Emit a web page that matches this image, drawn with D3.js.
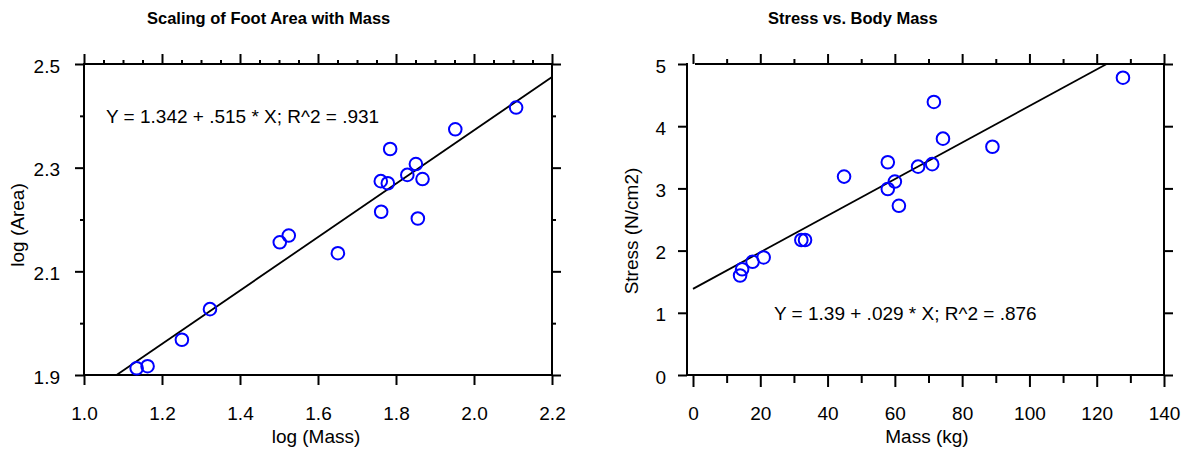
<!DOCTYPE html>
<html>
<head>
<meta charset="utf-8">
<script src="https://cdn.jsdelivr.net/npm/d3@7"></script>
<style>
  html, body { margin: 0; padding: 0; background: #fff; }
  svg { display: block; font-family: "Liberation Sans", Arial, Helvetica, sans-serif; }
</style>
</head>
<body>
<svg id="chart" width="1182" height="455"></svg>
<script>
// ---- Data ----
const logMass = [1.135, 1.163, 1.251, 1.323, 1.502, 1.525, 1.651, 1.762, 1.761, 1.779, 1.785, 1.829, 1.851, 1.868, 1.856, 1.952, 2.108];
const logArea = [1.913, 1.917, 1.968, 2.027, 2.156, 2.169, 2.135, 2.215, 2.274, 2.270, 2.336, 2.286, 2.307, 2.278, 2.202, 2.374, 2.416];

const massKg  = [14.0, 14.6, 17.7, 21.0, 32.2, 33.3, 44.9, 57.9, 57.9, 60.0, 61.2, 66.9, 71.1, 71.6, 74.3, 89.0, 127.8];
const stress  = [1.60, 1.70, 1.82, 1.89, 2.17, 2.17, 3.19, 3.42, 2.99, 3.11, 2.72, 3.35, 3.39, 4.39, 3.80, 3.67, 4.78];

const leftFit  = [1.342, 0.515];   // intercept, slope
const rightFit = [1.385, 0.0294];  // intercept, slope (drawn line)

const leftXTicks  = [1.0, 1.2, 1.4, 1.6, 1.8, 2.0, 2.2];
const leftXMinor  = [1.05, 1.1, 1.15, 1.25, 1.3, 1.35, 1.45, 1.5, 1.55, 1.65, 1.7, 1.75, 1.85, 1.9, 1.95, 2.05, 2.1, 2.15];
const leftYTicks  = [1.9, 2.1, 2.3, 2.5];
const leftYMinor  = [2.0, 2.2, 2.4];
const rightXTicks = [0, 20, 40, 60, 80, 100, 120, 140];
const rightXMinor = [10, 30, 50, 70, 90, 110, 130];
const rightYTicks = [0, 1, 2, 3, 4, 5];

const titles = ["Scaling of Foot Area with Mass", "Stress vs. Body Mass"];
const xLabels = ["log (Mass)", "Mass (kg)"];
const yLabels = ["log (Area)", "Stress (N/cm2)"];
const notes = ["Y = 1.342 + .515 * X; R^2 = .931", "Y = 1.39 + .029 * X; R^2 = .876"];

// ---- Drawing ----
const svg = d3.select("#chart");
const FS = 19;

function styleAxis(g) {
  g.select(".domain").remove();
  g.selectAll(".tick line").attr("stroke", "#000").attr("stroke-width", 2);
  g.selectAll("text").attr("font-size", FS).attr("fill", "#000").attr("font-family", null);
}

// ===== Left panel =====
{
  const x = d3.scaleLinear().domain([1.0, 2.2]).range([84, 552]);
  const y = d3.scaleLinear().domain([1.9, 2.5]).range([375, 64]);
  const g = svg.append("g");

  g.append("g").attr("transform", "translate(0,64)")
    .call(d3.axisTop(x).tickValues(leftXMinor).tickSize(4).tickFormat(""))
    .call(styleAxis);
  g.append("g").attr("transform", "translate(0,64)")
    .call(d3.axisTop(x).tickValues(leftXTicks).tickSize(10).tickFormat(""))
    .call(styleAxis);
  g.append("g").attr("transform", "translate(0,375)")
    .call(d3.axisBottom(x).tickValues(leftXTicks).tickSize(10).tickFormat(d3.format(".1f")))
    .call(styleAxis)
    .call(a => a.selectAll("text").attr("y", 45).attr("dy", 0));
  g.append("g").attr("transform", "translate(84,0)")
    .call(d3.axisLeft(y).tickValues(leftYMinor).tickSize(4).tickFormat(""))
    .call(styleAxis);
  g.append("g").attr("transform", "translate(84,0)")
    .call(d3.axisLeft(y).tickValues(leftYTicks).tickSize(9).tickFormat(d3.format(".1f")))
    .call(styleAxis)
    .call(a => a.selectAll("text").attr("x", -24).attr("dy", 0).attr("y", 8));
  g.append("g").attr("transform", "translate(552,0)")
    .call(d3.axisRight(y).tickValues(leftYMinor).tickSize(4).tickFormat(""))
    .call(styleAxis);
  g.append("g").attr("transform", "translate(552,0)")
    .call(d3.axisRight(y).tickValues(leftYTicks).tickSize(9).tickFormat(""))
    .call(styleAxis);

  g.append("rect").attr("x", x(1.0)).attr("y", y(2.5))
    .attr("width", x(2.2) - x(1.0)).attr("height", y(1.9) - y(2.5))
    .attr("fill", "none").attr("stroke", "#000").attr("stroke-width", 2);

  const x0 = (1.9 - leftFit[0]) / leftFit[1];
  const x1 = 2.2;
  g.append("line")
    .attr("x1", x(x0)).attr("y1", y(leftFit[0] + leftFit[1] * x0))
    .attr("x2", x(x1)).attr("y2", y(leftFit[0] + leftFit[1] * x1))
    .attr("stroke", "#000").attr("stroke-width", 1.8);

  g.selectAll("circle.pt").data(logMass.map((m, i) => [m, logArea[i]])).join("circle")
    .attr("class", "pt")
    .attr("cx", d => x(d[0])).attr("cy", d => y(d[1])).attr("r", 6.3)
    .attr("fill", "none").attr("stroke", "#0000ff").attr("stroke-width", 2);

  svg.append("text").attr("x", 147).attr("y", 24).attr("font-size", 16.5).attr("font-weight", "bold").text(titles[0]);
  svg.append("text").attr("x", 316).attr("y", 443).attr("font-size", FS).attr("text-anchor", "middle").text(xLabels[0]);
  svg.append("text").attr("transform", "translate(24,225) rotate(-90)").attr("font-size", FS).attr("text-anchor", "middle").text(yLabels[0]);
  svg.append("text").attr("x", 106).attr("y", 123).attr("font-size", FS).text(notes[0]);
}

// ===== Right panel =====
{
  const x = d3.scaleLinear().domain([0, 140]).range([693, 1164]);
  const y = d3.scaleLinear().domain([0, 5]).range([375, 64]);
  const axX = 687;
  const g = svg.append("g");

  g.append("g").attr("transform", "translate(0,64)")
    .call(d3.axisTop(x).tickValues(rightXMinor).tickSize(5).tickFormat(""))
    .call(styleAxis);
  g.append("g").attr("transform", "translate(0,64)")
    .call(d3.axisTop(x).tickValues(rightXTicks).tickSize(10).tickFormat(""))
    .call(styleAxis);
  g.append("g").attr("transform", "translate(0,375)")
    .call(d3.axisBottom(x).tickValues(rightXMinor).tickSize(8).tickFormat(""))
    .call(styleAxis);
  g.append("g").attr("transform", "translate(0,375)")
    .call(d3.axisBottom(x).tickValues(rightXTicks).tickSize(12).tickFormat(d3.format("d")))
    .call(styleAxis)
    .call(a => a.selectAll("text").attr("y", 45).attr("dy", 0));
  g.append("g").attr("transform", `translate(${axX},0)`)
    .call(d3.axisLeft(y).tickValues(rightYTicks).tickSize(9).tickFormat(d3.format("d")))
    .call(styleAxis)
    .call(a => a.selectAll("text").attr("x", -21).attr("dy", 0).attr("y", 8));
  g.append("g").attr("transform", "translate(1164,0)")
    .call(d3.axisRight(y).tickValues(rightYTicks).tickSize(9).tickFormat(""))
    .call(styleAxis);

  const fl = [[axX, y(5), axX, y(0)], [x(0) + 3, y(5), x(140), y(5)], [axX, y(0), x(140), y(0)], [x(140), y(5), x(140), y(0)]];
  g.selectAll("line.frame").data(fl).join("line").attr("class", "frame")
    .attr("x1", d => d[0]).attr("y1", d => d[1]).attr("x2", d => d[2]).attr("y2", d => d[3])
    .attr("stroke", "#000").attr("stroke-width", 2).attr("stroke-linecap", "square");

  const x0 = 0;
  const x1 = (5 - rightFit[0]) / rightFit[1];
  g.append("line")
    .attr("x1", x(x0)).attr("y1", y(rightFit[0] + rightFit[1] * x0))
    .attr("x2", x(x1)).attr("y2", y(rightFit[0] + rightFit[1] * x1))
    .attr("stroke", "#000").attr("stroke-width", 1.8);

  g.selectAll("circle.pt").data(massKg.map((m, i) => [m, stress[i]])).join("circle")
    .attr("class", "pt")
    .attr("cx", d => x(d[0])).attr("cy", d => y(d[1])).attr("r", 6.3)
    .attr("fill", "none").attr("stroke", "#0000ff").attr("stroke-width", 2);

  svg.append("text").attr("x", 768).attr("y", 24).attr("font-size", 16.5).attr("font-weight", "bold").text(titles[1]);
  svg.append("text").attr("x", 927).attr("y", 443).attr("font-size", FS).attr("text-anchor", "middle").text(xLabels[1]);
  svg.append("text").attr("transform", "translate(638,231) rotate(-90)").attr("font-size", FS).attr("text-anchor", "middle").text(yLabels[1]);
  svg.append("text").attr("x", 774).attr("y", 320).attr("font-size", FS).text(notes[1]);
}
</script>
</body>
</html>
